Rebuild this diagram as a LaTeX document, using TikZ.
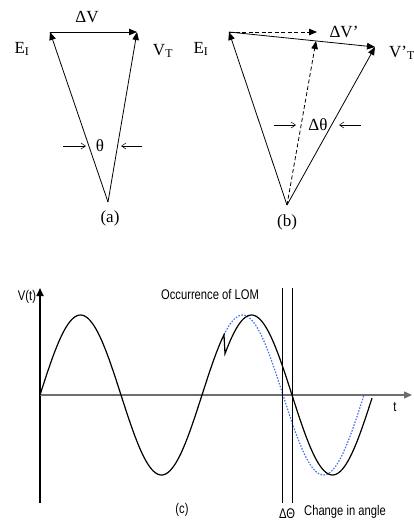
\documentclass[tikz,border=0pt]{standalone}
\usepackage{fontspec}
\setmainfont{Liberation Serif}
\newfontfamily\narrowsans{Liberation Sans}[FakeStretch=0.8]
\usetikzlibrary{arrows.meta,positioning}
\tikzset{>=Stealth}
\definecolor{axisgray}{RGB}{110,110,110}
\definecolor{oldblue}{RGB}{70,110,240}

\begin{document}
\begin{tikzpicture}[
    x=1pt, y=-1pt,
    vec/.style={-{Triangle[length=8pt,width=6.5pt]}, line width=0.8pt},
    dvec/.style={vec, dash pattern=on 4pt off 2.5pt},
    angarrow/.style={-{Straight Barb[length=4.5pt,width=6pt]}, line width=0.5pt},
    lbl/.style={font=\fontsize{17}{19}\selectfont, inner sep=0pt},
    sanstext/.style={font=\narrowsans\fontsize{14}{16}\selectfont, inner sep=0pt},
    wave/.style={line width=1.2pt},
    axisline/.style={-{Triangle[length=8pt,width=7pt]}}
]
    \useasboundingbox (0,0) rectangle (414,523);

    % (a) phasors before islanding
    \coordinate (oa) at (108,202);
    \coordinate (ea) at (50,32);
    \coordinate (va) at (137,32);
    \draw[vec] (oa) -- (ea);
    \draw[vec] (oa) -- (va);
    \draw[vec] (ea) -- (va);
    \node[lbl] (ealbl) at (22,49) {E\textsubscript{I}};
    \node[lbl] (valbl) at (163,51) {V\textsubscript{T}};
    \node[lbl] (dvlbl) at (87,17) {ΔV};
    \node[lbl] (tha) at (100,146) {θ};
    \coordinate (tha1) at (63,146);
    \coordinate (tha2) at (86,146);
    \coordinate (tha3) at (142,146);
    \coordinate (tha4) at (121,146);
    \draw[angarrow] (tha1) -- (tha2);
    \draw[angarrow] (tha3) -- (tha4);
    \node[lbl] (capa) at (110,218) {(a)};

    % (b) phasors after islanding
    \coordinate (ob) at (287,205);
    \coordinate (eb) at (229,32);
    \coordinate (db) at (317,32);
    \coordinate (mb) at (316,41);
    \coordinate (vb) at (375,47);
    \draw[vec] (ob) -- (eb);
    \draw[vec] (ob) -- (vb);
    \draw[vec] (eb) -- (vb);
    \draw[dvec] (eb) -- (db);
    \draw[dvec] (ob) -- (mb);
    \node[lbl] (eblbl) at (201,49) {E\textsubscript{I}};
    \node[lbl, anchor=west] (vblbl) at (389,53) {V'\textsubscript{T}};
    \node[lbl] (dvblbl) at (344,32) {ΔV'};
    \node[lbl] (thb) at (318,125) {Δθ};
    \coordinate (thb1) at (274,125);
    \coordinate (thb2) at (296,125);
    \coordinate (thb3) at (361,125);
    \coordinate (thb4) at (339,125);
    \draw[angarrow] (thb1) -- (thb2);
    \draw[angarrow] (thb3) -- (thb4);
    \node[lbl] (capb) at (287,222) {(b)};

    % (c) voltage waveform
    \coordinate (org) at (40,395);
    \coordinate (ytop) at (40,288);
    \coordinate (ybot) at (40,503);
    \coordinate (xend) at (412,395);
    \draw[axisline, line width=1.8pt] (ybot) -- (ytop);
    \draw[axisline, axisgray, line width=1.3pt] (org) -- (xend);
    \node[sanstext] (vt) at (27,297) {V(t)};
    \node[sanstext] (tl) at (395,407) {t};

    \draw[oldblue, line width=1.2pt, dash pattern=on 1.5pt off 1.5pt]
        plot[domain=224:364, samples=60] (\x, {395-80*sin((\x-40)/162*360)});
    \draw[wave]
        plot[domain=40:224, samples=100] (\x, {395-80*sin((\x-40)/162*360)})
        -- plot[domain=225:372, samples=80] (\x, {395-80*sin((\x-49)/162*360)});

    \coordinate (l1t) at (282,288);
    \coordinate (l1b) at (282,503);
    \coordinate (l2t) at (292,288);
    \coordinate (l2b) at (292,503);
    \draw[line width=1pt] (l1t) -- (l1b);
    \draw[line width=1pt] (l2t) -- (l2b);

    \node[sanstext] (lom) at (210,294) {Occurrence of LOM};
    \node[sanstext] (dth) at (287,514) {ΔΘ};
    \node[sanstext, anchor=west] (chg) at (304,512) {Change in angle};
    \node[sanstext] (capc) at (182,510) {(c)};
\end{tikzpicture}
\end{document}
